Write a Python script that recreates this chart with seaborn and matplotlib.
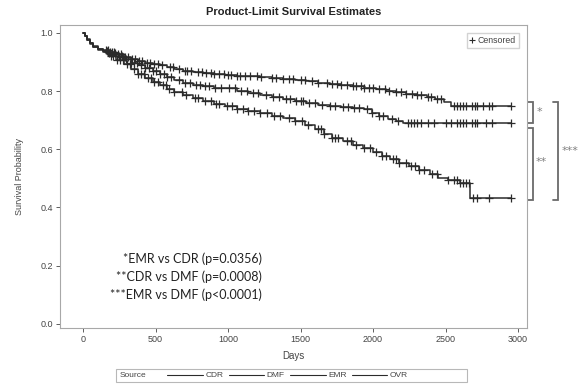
import numpy as np
import matplotlib
matplotlib.use("Agg")
import matplotlib.pyplot as plt
from matplotlib.lines import Line2D
from matplotlib.patches import Rectangle
import seaborn as sns

# Kaplan-Meier step estimates per source (day, survival)
emr_days = [0, 10, 25, 45, 70, 100, 140, 180, 230, 280, 330, 380, 430, 480, 530, 580, 630,
            690, 760, 830, 900, 980, 1060, 1140, 1220, 1300, 1380, 1460, 1540, 1620, 1700,
            1780, 1860, 1940, 2020, 2090, 2160, 2230, 2300, 2370, 2430, 2490, 2540, 2950]
emr_surv = [1.0, 0.99, 0.978, 0.966, 0.954, 0.946, 0.94, 0.934, 0.926, 0.918, 0.91, 0.903,
            0.897, 0.892, 0.888, 0.882, 0.875, 0.87, 0.866, 0.862, 0.859, 0.856, 0.853, 0.851,
            0.848, 0.845, 0.841, 0.838, 0.834, 0.829, 0.826, 0.822, 0.817, 0.812, 0.807,
            0.801, 0.796, 0.79, 0.785, 0.779, 0.772, 0.764, 0.749, 0.749]

cdr_days = [0, 10, 25, 45, 70, 100, 140, 180, 230, 280, 330, 380, 430, 480, 530, 580, 630,
            690, 760, 830, 900, 980, 1060, 1140, 1220, 1300, 1380, 1460, 1540, 1620, 1700,
            1780, 1860, 1940, 1990, 2040, 2100, 2160, 2210, 2950]
cdr_surv = [1.0, 0.99, 0.977, 0.964, 0.952, 0.944, 0.937, 0.93, 0.92, 0.909, 0.898, 0.888,
            0.879, 0.869, 0.86, 0.849, 0.837, 0.829, 0.822, 0.816, 0.812, 0.809, 0.8, 0.793,
            0.787, 0.781, 0.773, 0.765, 0.758, 0.753, 0.749, 0.746, 0.743, 0.737, 0.726,
            0.714, 0.705, 0.697, 0.69, 0.69]

dmf_days = [0, 10, 25, 45, 70, 100, 140, 180, 230, 280, 330, 380, 430, 480, 530, 580, 630,
            690, 760, 830, 900, 980, 1060, 1140, 1220, 1300, 1380, 1460, 1530, 1600, 1660,
            1720, 1790, 1860, 1930, 2000, 2060, 2120, 2180, 2250, 2320, 2390, 2450, 2520,
            2600, 2670, 2950]
dmf_surv = [1.0, 0.99, 0.976, 0.963, 0.951, 0.942, 0.933, 0.922, 0.908, 0.893, 0.876, 0.86,
            0.846, 0.832, 0.82, 0.808, 0.797, 0.787, 0.776, 0.766, 0.757, 0.748, 0.74, 0.733,
            0.725, 0.716, 0.707, 0.698, 0.684, 0.668, 0.652, 0.64, 0.628, 0.615, 0.603, 0.59,
            0.578, 0.565, 0.553, 0.543, 0.53, 0.515, 0.503, 0.493, 0.483, 0.432, 0.432]

# Censoring times per source
emr_cens = [160, 175, 185, 200, 215, 240, 265, 290, 310, 340, 360, 385, 410, 440, 460, 490,
            520, 545, 600, 620, 660, 700, 720, 745, 790, 820, 850, 880, 900, 940, 970, 1000,
            1020, 1060, 1080, 1120, 1150, 1200, 1230, 1300, 1330, 1380, 1420, 1450, 1500,
            1530, 1580, 1620, 1680, 1720, 1750, 1780, 1820, 1860, 1880, 1920, 1940, 1970,
            2000, 2040, 2080, 2110, 2160, 2190, 2230, 2270, 2300, 2330, 2380, 2400, 2440,
            2470, 2560, 2580, 2600, 2620, 2640, 2680, 2700, 2720, 2760, 2800, 2820, 2950]
cdr_cens = [165, 180, 200, 220, 245, 270, 295, 330, 350, 375, 400, 430, 455, 480, 500, 530,
            560, 580, 610, 660, 700, 740, 780, 810, 840, 870, 910, 950, 1010, 1050, 1090,
            1130, 1170, 1210, 1260, 1310, 1350, 1400, 1430, 1470, 1500, 1520, 1560, 1600,
            1650, 1700, 1740, 1790, 1830, 1870, 1900, 1960, 1990, 2040, 2070, 2130, 2170,
            2240, 2260, 2280, 2300, 2330, 2380, 2420, 2500, 2540, 2580, 2600, 2620, 2640,
            2680, 2700, 2720, 2780, 2820, 2950]
dmf_cens = [170, 190, 210, 235, 255, 275, 300, 325, 350, 380, 400, 420, 445, 470, 490, 515,
            550, 570, 590, 630, 680, 710, 770, 790, 840, 880, 920, 940, 990, 1030, 1060,
            1100, 1140, 1180, 1220, 1270, 1320, 1360, 1420, 1460, 1510, 1550, 1620, 1640,
            1660, 1720, 1740, 1760, 1820, 1850, 1880, 1940, 1980, 2020, 2060, 2090, 2140,
            2160, 2180, 2230, 2260, 2290, 2320, 2350, 2410, 2440, 2520, 2560, 2580, 2600,
            2620, 2640, 2660, 2690, 2720, 2800, 2950]

sources = ["CDR", "DMF", "EMR", "OVR"]
comparisons = ["*EMR vs CDR (p=0.0356)",
               "**CDR vs DMF (p=0.0008)",
               "***EMR vs DMF (p<0.0001)"]
x_ticks = [0, 500, 1000, 1500, 2000, 2500, 3000]
y_ticks = [0.0, 0.2, 0.4, 0.6, 0.8, 1.0]

sns.set_style("white")
plt.rcParams["font.family"] = ["Liberation Sans", "DejaVu Sans"]

line_col = "#2b2b2b"
frame_col = "#a8a8a8"
text_col = "#444444"

fig = plt.figure(figsize=(5.82, 3.91), dpi=100)
ax = fig.add_axes([60 / 582, 1 - 328 / 391, 467 / 582, 303 / 391])


def step_value(days, surv, t):
    idx = np.searchsorted(days, t, side="right") - 1
    return np.asarray(surv)[idx]


for days, surv, cens in [(emr_days, emr_surv, emr_cens),
                         (cdr_days, cdr_surv, cdr_cens),
                         (dmf_days, dmf_surv, dmf_cens)]:
    sns.lineplot(x=days, y=surv, drawstyle="steps-post", estimator=None,
                 color=line_col, linewidth=1.1, ax=ax)
    sns.scatterplot(x=cens, y=step_value(days, surv, cens), marker="+", s=32,
                    color=line_col, linewidth=0.9, ax=ax, zorder=3)

ax.set_xlim(-159, 3062)
ax.set_ylim(-0.014, 1.027)
ax.set_xticks(x_ticks)
ax.set_yticks(y_ticks)
ax.set_xticklabels([str(v) for v in x_ticks])
ax.set_yticklabels([f"{v:.1f}" for v in y_ticks])
ax.tick_params(axis="both", labelsize=6.5, colors=text_col, length=3, width=0.6,
               direction="out", bottom=True, left=True, pad=2)
for tl in ax.get_xticklines() + ax.get_yticklines():
    tl.set_color(frame_col)
for sp in ax.spines.values():
    sp.set_color(frame_col)
    sp.set_linewidth(0.8)

ax.set_xlabel("Days", fontsize=7, color=text_col, labelpad=5)
ax.set_ylabel("Survival Probability", fontsize=6.5, color=text_col, labelpad=12)
fig.text(293.5 / 582, 1 - 12 / 391, "Product-Limit Survival Estimates",
         ha="center", va="center", fontsize=8, fontweight="bold", color="#222222")

# Censored marker legend
cens_handle = Line2D([], [], marker="+", linestyle="none", color=line_col,
                     markersize=4, markeredgewidth=0.8)
ax.legend([cens_handle], ["Censored"], loc="upper right", fontsize=6.3,
          handlelength=0.6, handletextpad=0.3, borderpad=0.35,
          frameon=True, fancybox=False, edgecolor="#c8c8c8",
          bbox_to_anchor=(0.992, 0.988), labelcolor=text_col)

# p-value annotations
for i, txt in enumerate(comparisons):
    fig.text(262 / 582, 1 - (258.5 + 18.3 * i) / 391, txt, ha="right", va="center",
             fontsize=9, family=["Lato", "DejaVu Sans"], color="#222222")

# Significance brackets to the right of the plot
trans = matplotlib.transforms.blended_transform_factory(ax.transAxes, ax.transData)
br_col = "#6a6a6a"


def bracket(x_tip, x_bar, y0, y1):
    ax.plot([x_tip, x_bar, x_bar, x_tip], [y0, y0, y1, y1], color=br_col, lw=1.3,
            transform=trans, clip_on=False, solid_joinstyle="miter")


bracket(1.002, 1.012, 0.764, 0.690)
bracket(1.002, 1.012, 0.672, 0.426)
bracket(1.056, 1.067, 0.764, 0.426)
star_kw = dict(transform=trans, fontsize=8, color="#808080", ha="left", va="center",
               family=["DejaVu Sans"])
ax.text(1.020, 0.728, "*", **star_kw)
ax.text(1.019, 0.555, "**", **star_kw)
ax.text(1.075, 0.595, "***", **star_kw)

# Source legend below the axes
fig.patches.append(Rectangle((116 / 582, 1 - 382 / 391), 351 / 582, 13 / 391,
                             transform=fig.transFigure, fill=False,
                             edgecolor="#b8b8b8", linewidth=0.8))
fig.text(120 / 582, 1 - 375.5 / 391, "Source", fontsize=6, color=text_col,
         ha="left", va="center")
src_handles = [Line2D([], [], color=line_col, linewidth=0.8) for _ in sources]
fig.legend(src_handles, sources, loc="center left", ncol=4, frameon=False,
           bbox_to_anchor=(163 / 582, 1 - 375.5 / 391), fontsize=6,
           handlelength=4.3, handletextpad=0.3, columnspacing=0.6,
           borderpad=0, labelcolor=text_col)

fig.savefig("out.png", dpi=100)
